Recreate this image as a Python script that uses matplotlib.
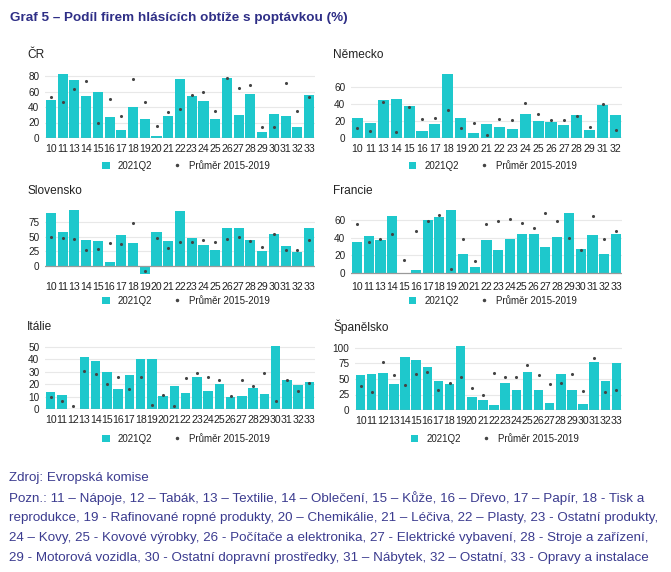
import matplotlib
matplotlib.use("Agg")
import matplotlib.pyplot as plt
from matplotlib.patches import Patch
from matplotlib.lines import Line2D

plt.rcParams['font.family'] = ['Liberation Sans', 'DejaVu Sans']

W, H = 671, 572
BAR = '#1ec8cc'
DOT = '#444444'
TXT = '#222222'
NAVY = '#2e2e86'
FOOT = '#3b3b8f'

cats_a = ['10', '11', '13', '14', '15', '16', '17', '18', '19', '20', '21', '22',
          '23', '24', '25', '26', '27', '28', '29', '30', '31', '32', '33']
cats_de = ['10', '11', '13', '14', '15', '16', '17', '18', '19', '20', '21', '22',
           '23', '24', '25', '26', '27', '28', '29', '31', '32']
cats_b = [str(i) for i in range(10, 34)]

cz_q2 = [49, 83, 75, 54, 60, 26.5, 10.7, 40, 25, 3, 28, 76, 54, 48, 25, 77, 30, 57, 8, 31, 29, 14, 56]
cz_avg = [53, 47, 63, 73, 20, 50, 28, 76, 47, 16, 34, 38, 56, 59, 35, 78, 65, 69, 14, 14, 71, 35, 53]

de_q2 = [24, 17.6, 44.7, 46, 38, 8, 16.5, 75, 23, 5.5, 16.5, 13, 11, 28.6, 20.4, 19, 15, 26.7, 9.4, 39, 26.7]
de_avg = [12, 8, 42, 6.7, 37, 22, 23, 33, 12, 17.6, 3, 22, 21, 41, 28.6, 21.5, 21, 26, 12.5, 40, 10]

sk_q2 = [91, 58, 96, 45, 43, 7.4, 52, 39, -13.6, 58, 43, 94, 48, 35, 27, 65, 65, 44, 26, 54.5, 34, 24, 65]
sk_avg = [49, 47, 46, 27, 29, 39, 38, 73, -8.5, 48, 31, 41, 41, 45, 41.5, 46.6, 49, 42.6, 33, 55, 28, 28, 45]

fr_q2 = [35.5, 41.5, 37.4, 64.5, -1, 3, 59.6, 63, 71, 22, 6.4, 37.7, 26.4, 38, 44.5, 44.5, 29.4, 40.7, 67.5, 26.8, 43, 21.5, 43.8]
fr_avg = [55, 35.5, 38.5, 44.5, 15, 47, 59, 66, 4, 38.5, 13.6, 55.5, 59, 61.5, 57, 51, 68, 58.5, 40, 26, 65, 39, 47]

it_q2 = [13.9, 11.2, 0.3, 42, 38.5, 30, 15.8, 27.3, 40, 40.6, 10.4, 18.4, 12.6, 26.2, 14.2, 20, 9.4, 10.2, 17, 12.3, 51, 23, 19.5, 21.4]
it_avg = [9.9, 6.4, 2.4, 30.7, 28.6, 20, 26.2, 16, 26, 3.5, 11.5, 2.7, 24.9, 29, 26, 23.3, 10.7, 23, 18.7, 29, 6.4, 23, 14.4, 20.6]

es_q2 = [56.8, 58.4, 59.5, 42.7, 85, 81, 70, 47, 42.7, 104, 21.6, 16.2, 8.6, 43.8, 32.4, 61.6, 33, 10.8, 58.4, 32.4, 10.3, 78, 46, 76]
es_avg = [38.4, 29.7, 76.8, 56.8, 41, 57.3, 61, 33, 43.2, 53, 35.7, 23.8, 60, 53, 53, 72, 55.7, 42.7, 43.2, 57.3, 31.4, 84.3, 29.7, 31.9]

fig = plt.figure(figsize=(W / 100, H / 100), dpi=100)
fig.patch.set_facecolor('white')


def fx(px):
    return px / W


def fy(py):
    return 1 - py / H


def panel(title, cats, q2, avg, x0, x1, zero_px, ref_px, ref_val, ylo, yhi, ticks,
          tx, ty, legy):
    scale = (zero_px - ref_px) / ref_val
    top = zero_px - yhi * scale
    bot = zero_px - ylo * scale
    ax = fig.add_axes([fx(x0), fy(bot), fx(x1 - x0), (bot - top) / H])
    n = len(cats)
    xs = list(range(n))
    ax.bar(xs, q2, width=0.86, color=BAR, zorder=2)
    ax.scatter(xs, avg, s=5, color=DOT, zorder=3, linewidths=0)
    ax.set_xlim(-0.5, n - 0.5)
    ax.set_ylim(ylo, yhi)
    ax.set_yticks(ticks)
    ax.set_yticklabels([str(t) for t in ticks])
    ax.set_xticks(xs)
    ax.set_xticklabels(cats)
    for t in ticks:
        if t != 0:
            ax.axhline(t, color='#e8e8e8', lw=0.8, zorder=1)
    ax.axhline(0, color='#9a9a9a', lw=0.9, zorder=4)
    for s in ax.spines.values():
        s.set_visible(False)
    ax.tick_params(axis='both', length=0, colors=TXT)
    ax.tick_params(axis='x', labelsize=7.6, pad=4.5)
    ax.tick_params(axis='y', labelsize=7.2, pad=4)
    fig.text(fx(tx), fy(ty), title, fontsize=8.6, color=TXT, va='center', ha='left')
    handles = [Patch(facecolor=BAR, edgecolor='none'),
               Line2D([], [], marker='.', color=DOT, linestyle='none', markersize=3)]
    ax.legend(handles, ['2021Q2', 'Průměr 2015-2019'], loc='center',
              bbox_to_anchor=(fx((x0 + x1) / 2 + 6), fy(legy)),
              bbox_transform=fig.transFigure, ncol=2, frameon=False,
              fontsize=7, handlelength=0.8, handleheight=0.8, columnspacing=2.2,
              handletextpad=0.8, labelcolor=TXT)
    return ax


panel('ČR', cats_a, cz_q2, cz_avg, 45, 315, 138, 76, 80, 0, 86, [0, 20, 40, 60, 80], 27, 55, 166)
panel('Německo', cats_de, de_q2, de_avg, 351, 622, 138, 87, 60, 0, 77, [0, 20, 40, 60], 333, 55, 166)
panel('Slovensko', cats_a, sk_q2, sk_avg, 45, 315, 266, 222, 75, -16, 98, [0, 25, 50, 75], 27, 191, 301)
panel('Francie', cats_a, fr_q2, fr_avg, 351, 622, 273, 220, 60, -3, 73, [0, 20, 40, 60], 333, 191, 301)
panel('Itálie', cats_b, it_q2, it_avg, 45, 315, 409, 347, 50, 0, 52, [0, 10, 20, 30, 40, 50], 27, 327, 439)
panel('Španělsko', cats_b, es_q2, es_avg, 355, 622, 410, 348, 100, 0, 106, [0, 25, 50, 75, 100], 333, 327, 439)

fig.text(fx(10), fy(18), 'Graf 5 – Podíl firem hlásících obtíže s poptávkou (%)',
         fontsize=9.7, fontweight='bold', color=NAVY, va='center', ha='left')

foot = [
    'Zdroj: Evropská komise',
    'Pozn.: 11 – Nápoje, 12 – Tabák, 13 – Textilie, 14 – Oblečení, 15 – Kůže, 16 – Dřevo, 17 – Papír, 18 - Tisk a',
    'reprodukce, 19 - Rafinované ropné produkty, 20 – Chemikálie, 21 – Léčiva, 22 – Plasty, 23 - Ostatní produkty,',
    '24 – Kovy, 25 - Kovové výrobky, 26 - Počítače a elektronika, 27 - Elektrické vybavení, 28 - Stroje a zařízení,',
    '29 - Motorová vozidla, 30 - Ostatní dopravní prostředky, 31 – Nábytek, 32 – Ostatní, 33 - Opravy a instalace',
]
for i, line in enumerate(foot):
    fig.text(fx(9), fy(478 + 20 * i), line, fontsize=9.6, color=FOOT, va='center', ha='left')

fig.savefig('out.png', dpi=100, facecolor='white')
